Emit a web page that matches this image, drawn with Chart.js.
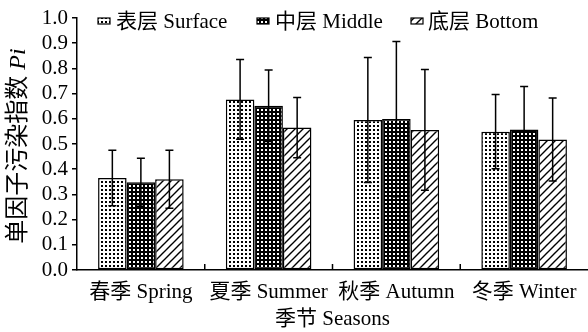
<!DOCTYPE html>
<html>
<head>
<meta charset="utf-8">
<script src="https://cdn.jsdelivr.net/npm/chart.js@4/dist/chart.umd.min.js"></script>
<style>
  html, body { margin: 0; padding: 0; background: #fff; }
  canvas { display: block; }
</style>
</head>
<body>
<canvas id="c" width="588" height="332"></canvas>
<script>
// Seasons on the x axis
const seasons = ['春季 Spring', '夏季 Summer', '秋季 Autumn', '冬季 Winter'];
// Water layers (one dataset each)
const layerNames = ['表层 Surface', '中层 Middle', '底层 Bottom'];
// Mean single-factor pollution index Pi per season
const surfaceMean = [0.365, 0.677, 0.595, 0.549];
const middleMean  = [0.348, 0.652, 0.599, 0.558];
const bottomMean  = [0.360, 0.565, 0.556, 0.518];
// Standard deviations (error bars)
const surfaceSD = [0.110, 0.158, 0.248, 0.147];
const middleSD  = [0.095, 0.142, 0.308, 0.170];
const bottomSD  = [0.115, 0.120, 0.240, 0.165];
// Y axis range
const yMin = 0, yMax = 1.0, yStep = 0.1;

const FONT = "'Liberation Serif', 'Noto Sans CJK SC', serif";
const FS = 21;
const ctx0 = document.getElementById('c').getContext('2d');

// Fill patterns: dotted, dark checker, diagonal hatch
function makeTile(size, draw) {
  const t = document.createElement('canvas');
  t.width = size; t.height = size;
  const g = t.getContext('2d');
  draw(g, size);
  return ctx0.createPattern(t, 'repeat');
}
const dotPattern = makeTile(4, (g, s) => {
  g.fillStyle = '#fff'; g.fillRect(0, 0, s, s);
  g.fillStyle = '#000'; g.fillRect(1, 1, 2, 2);
});
const checkPattern = makeTile(4, (g, s) => {
  g.fillStyle = '#000'; g.fillRect(0, 0, s, s);
  g.fillStyle = '#fff'; g.fillRect(1, 1, 2, 2);
});
const hatchPattern = makeTile(8, (g, s) => {
  g.fillStyle = '#fff'; g.fillRect(0, 0, s, s);
  g.strokeStyle = '#000'; g.lineWidth = 1.4;
  g.beginPath();
  g.moveTo(-4, 4); g.lineTo(4, -4);
  g.moveTo(0, 8); g.lineTo(8, 0);
  g.moveTo(4, 12); g.lineTo(12, 4);
  g.stroke();
});
const patterns = [dotPattern, checkPattern, hatchPattern];
const sds = [surfaceSD, middleSD, bottomSD];

// Error bars drawn from the dataset values through the y scale
const errorBars = {
  id: 'errorBars',
  afterDatasetsDraw(chart) {
    const { ctx, scales: { y } } = chart;
    ctx.save();
    ctx.strokeStyle = '#000';
    ctx.lineWidth = 1.5;
    chart.data.datasets.forEach((ds, di) => {
      const meta = chart.getDatasetMeta(di);
      meta.data.forEach((bar, i) => {
        const m = ds.data[i], s = sds[di][i];
        const yTop = y.getPixelForValue(m + s);
        const yBot = y.getPixelForValue(m - s);
        const x = bar.x;
        ctx.beginPath();
        ctx.moveTo(x, yTop); ctx.lineTo(x, yBot);
        ctx.moveTo(x - 4, yTop); ctx.lineTo(x + 4, yTop);
        ctx.moveTo(x - 4, yBot); ctx.lineTo(x + 4, yBot);
        ctx.stroke();
      });
    });
    ctx.restore();
  }
};

// Inward separator ticks between season groups, legend and y title
const decorations = {
  id: 'decorations',
  afterDraw(chart) {
    const { ctx, chartArea, scales: { x } } = chart;
    ctx.save();
    ctx.strokeStyle = '#000';
    ctx.lineWidth = 1.5;
    for (let i = 1; i < seasons.length; i++) {
      const bx = (x.getPixelForValue(i - 1) + x.getPixelForValue(i)) / 2;
      ctx.beginPath();
      ctx.moveTo(bx, chartArea.bottom);
      ctx.lineTo(bx, chartArea.bottom - 6);
      ctx.stroke();
    }

    // Legend
    const items = [{ bx: 98, tx: 116 }, { bx: 257, tx: 275 }, { bx: 411, tx: 428 }];
    ctx.font = FS + 'px ' + FONT;
    ctx.textBaseline = 'middle';
    ctx.textAlign = 'left';
    items.forEach((it, k) => {
      ctx.fillStyle = patterns[k];
      ctx.fillRect(it.bx, 18, 12, 6);
      ctx.lineWidth = 1.2;
      ctx.strokeRect(it.bx, 18, 12, 6);
      ctx.fillStyle = '#000';
      ctx.fillText(layerNames[k], it.tx, 22);
    });

    // Y axis title with italic symbol
    const main = '单因子污染指数 ';
    const sym = 'Pi';
    const tf = 24;
    ctx.font = tf + 'px ' + FONT;
    const w1 = ctx.measureText(main).width;
    ctx.font = 'italic ' + tf + 'px ' + FONT;
    const w2 = ctx.measureText(sym).width;
    const cy = (chartArea.top + chartArea.bottom) / 2 + 2;
    ctx.translate(19, cy);
    ctx.rotate(-Math.PI / 2);
    const start = -(w1 + w2) / 2;
    ctx.fillStyle = '#000';
    ctx.textBaseline = 'middle';
    ctx.font = tf + 'px ' + FONT;
    ctx.fillText(main, start, 0);
    ctx.font = 'italic ' + tf + 'px ' + FONT;
    ctx.fillText(sym, start + w1, 0);
    ctx.restore();
  }
};

new Chart(ctx0, {
  type: 'bar',
  data: {
    labels: seasons,
    datasets: [surfaceMean, middleMean, bottomMean].map((d, k) => ({
      label: layerNames[k],
      data: d,
      backgroundColor: patterns[k],
      borderColor: '#000',
      borderWidth: 1.5,
      borderSkipped: false,
      categoryPercentage: 0.67,
      barPercentage: 1.0
    }))
  },
  options: {
    responsive: false,
    animation: false,
    devicePixelRatio: 1,
    layout: { padding: { top: 18, right: 0, left: 0, bottom: 0 } },
    plugins: { legend: { display: false }, tooltip: { enabled: false } },
    scales: {
      x: {
        grid: { display: false, drawTicks: false },
        border: { display: true, color: '#000', width: 1.5 },
        ticks: { color: '#000', font: { family: FONT, size: FS }, padding: 10, maxRotation: 0, autoSkip: false },
        title: { display: true, text: '季节 Seasons', color: '#000', font: { family: FONT, size: FS }, padding: { top: 0, bottom: 0 } },
        afterFit(s) { s.height = 62; }
      },
      y: {
        min: yMin, max: yMax,
        grid: { drawOnChartArea: false, drawTicks: true, tickLength: 5, color: '#000', lineWidth: 1.5 },
        border: { display: true, color: '#000', width: 1.5 },
        ticks: { stepSize: yStep, autoSkip: false, color: '#000', padding: 4, font: { family: FONT, size: FS },
                 callback: v => v.toFixed(1) },
        afterFit(s) { s.width = 77; }
      }
    }
  },
  plugins: [errorBars, decorations]
});
</script>
</body>
</html>
